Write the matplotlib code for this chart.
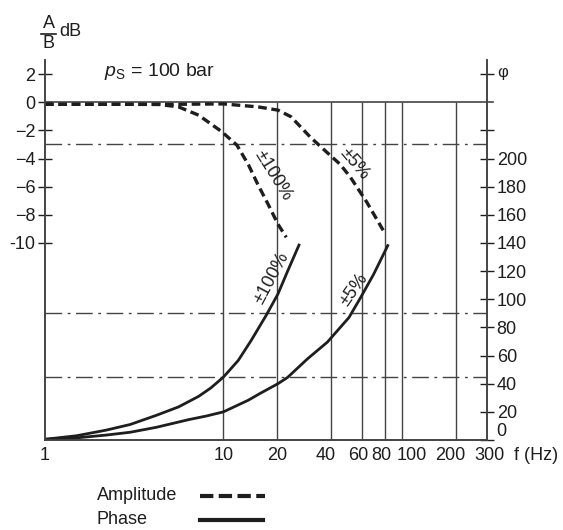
import numpy as np
import matplotlib
matplotlib.use("Agg")
import matplotlib.pyplot as plt
from matplotlib.lines import Line2D
import matplotlib.transforms as mtransforms

plt.rcParams['font.family'] = ['Liberation Sans', 'DejaVu Sans']
plt.rcParams['mathtext.fontset'] = 'custom'
plt.rcParams['mathtext.rm'] = 'Liberation Sans'
plt.rcParams['mathtext.it'] = 'Liberation Sans:italic'

# --- Daten ---
f_amp100 = [1, 2, 3, 4.36, 5.6, 7.26, 9.78, 11.9, 13.8, 15.6, 17.8, 20.2, 22.5]
db_amp100 = [-0.15, -0.15, -0.15, -0.16, -0.33, -0.92, -2.09, -3.05, -4.44, -5.85, -7.25, -8.66, -9.6]

f_amp5 = [1, 5, 10, 15.6, 20.2, 23.9, 30.8, 38.3, 45, 51.3, 63.6, 79.4]
db_amp5 = [-0.15, -0.15, -0.12, -0.33, -0.56, -1.03, -2.5, -3.6, -4.4, -5.3, -7.1, -9.2]

f_ph100 = [1, 1.5, 2.2, 3, 4.2, 5.6, 7.26, 8.5, 10, 12.1, 14.3, 17.4, 20.2, 22.9, 26.7]
phi_ph100 = [0.5, 3, 7, 11, 17.5, 23.5, 31, 37, 44.7, 56.5, 70.7, 88.8, 103.7, 120, 139.4]

f_ph5 = [1, 1.5, 2.2, 3, 4.2, 6.4, 8, 10, 13.8, 16, 20.2, 22.9, 29.6, 38.2, 50.5, 58.6, 69.5, 84]
phi_ph5 = [0.5, 1.5, 3.5, 5.5, 9, 14.5, 17, 20, 28.3, 33, 40, 44.5, 57.7, 69.5, 87, 101, 117.8, 139]

x_ticks = [1, 10, 20, 40, 60, 80, 100, 200, 300]
x_label_dx = [0, 0, 0, -5, -4, -3, 10, -5, 2]   # Versatz der Beschriftung in px
x_gitter = [10, 20, 40, 60, 80, 100, 200]
db_ticks = [2, 0, -2, -4, -6, -8, -10]
db_labels = ['2', '0', '\u22122', '\u22124', '\u22126', '\u22128', '-10']
phi_ticks = [0, 20, 40, 60, 80, 100, 120, 140, 160, 180, 200, 220, 260]
phi_labels = ['0', '20', '40', '60', '80', '100', '120', '140', '160', '180', '200', '', '']
hilfslinien_db = [-3]
hilfslinien_phi = [90, 45]

W, H = 563, 530
fig = plt.figure(figsize=(W / 100, H / 100), dpi=100)
L, R, B, T = 45, 487, 440, 60
ax = fig.add_axes([L / W, 1 - B / H, (R - L) / W, (B - T) / H])
ax2 = ax.twinx()

ax.set_xscale('log')
ax.set_xlim(1, 300)
ax.set_ylim(-24, 3)
ax2.set_ylim(0, 270)

dunkel = '#1e1e1e'
for a in (ax, ax2):
    a.spines['top'].set_visible(False)
    for s in a.spines.values():
        s.set_color('#444444')
        s.set_linewidth(1.2)

# Achsen / Ticks
ax.set_yticks(db_ticks)
ax.set_yticklabels(db_labels)
ax.tick_params(axis='y', direction='inout', length=10, width=1, pad=2, labelsize=13, colors=dunkel)
ax2.set_yticks(phi_ticks)
ax2.set_yticklabels(phi_labels)
ax2.tick_params(axis='y', direction='inout', length=10, width=1, pad=2, labelsize=13, colors=dunkel)
ax2.get_yticklabels()[0].set_verticalalignment('bottom')   # "0" etwas hoeher
ax.set_xticks([])
ax.xaxis.set_minor_locator(matplotlib.ticker.NullLocator())

xtrans = mtransforms.blended_transform_factory(ax.transData, ax.transAxes)
for v, dx in zip(x_ticks, x_label_dx):
    off = mtransforms.ScaledTranslation(dx / 100, -15 / 100, fig.dpi_scale_trans)
    ax.text(v, 0, str(v), transform=xtrans + off, ha='center', va='center',
            fontsize=13, color=dunkel, clip_on=False)

# Gitter
ax.vlines(x_gitter, -24, 0, color='#444444', lw=1)
trans = mtransforms.blended_transform_factory(ax.transAxes, ax.transData)
ax.plot([0, 1.013], [0, 0], color='#444444', lw=1.2, transform=trans, clip_on=False)
for y in hilfslinien_db:
    ax.axhline(y, color='#444444', lw=1, dashes=(12, 4, 2, 4))
for y in hilfslinien_phi:
    ax2.axhline(y, color='#444444', lw=1, dashes=(12, 4, 2, 4))

# Kurven
ax.plot(f_amp100, db_amp100, color=dunkel, lw=2.4, dashes=(2.6, 1.4))
ax.plot(f_amp5, db_amp5, color=dunkel, lw=2.4, dashes=(2.6, 1.4))
ax2.plot(f_ph100, phi_ph100, color=dunkel, lw=2.0, solid_capstyle='butt')
ax2.plot(f_ph5, phi_ph5, color=dunkel, lw=2.0, solid_capstyle='butt')

# Beschriftungen an den Kurven
ax.text(19, -5.2, '\u00b1100%', rotation=-58, ha='center', va='center', rotation_mode='anchor', fontsize=13, color=dunkel)
ax.text(54, -4.4, '\u00b15%', rotation=-50, ha='center', va='center', rotation_mode='anchor', fontsize=13, color=dunkel)
ax2.text(18.7, 115, '\u00b1100%', rotation=62, ha='center', va='center', rotation_mode='anchor', fontsize=13, color=dunkel)
ax2.text(54.2, 107, '\u00b15%', rotation=55, ha='center', va='center', rotation_mode='anchor', fontsize=13, color=dunkel)

ax.text(2.15, 2.2, r'$p_\mathrm{S}$ = 100 bar', ha='left', va='center', fontsize=14, color=dunkel)

def px(x, y):
    return x / W, 1 - y / H

fig.text(*px(48.5, 23), 'A', ha='center', va='center', fontsize=13, color=dunkel)
fig.text(*px(48.5, 44), 'B', ha='center', va='center', fontsize=13, color=dunkel)
fig.add_artist(Line2D([41 / W, 56 / W], [1 - 33.5 / H, 1 - 33.5 / H], color=dunkel, lw=1.2))
fig.text(*px(59, 32), 'dB', ha='left', va='center', fontsize=13, color=dunkel)
fig.text(*px(497, 73), '\u03c6', ha='left', va='center', fontsize=12, color=dunkel)
fig.text(*px(514, 455), 'f (Hz)', ha='left', va='center', fontsize=13, color=dunkel)

# Legende
fig.text(*px(97, 495), 'Amplitude', ha='left', va='center', fontsize=13, color=dunkel)
fig.text(*px(97, 519), 'Phase', ha='left', va='center', fontsize=13, color=dunkel)
fig.add_artist(Line2D([200 / W, 265 / W], [1 - 496 / H, 1 - 496 / H], color=dunkel, lw=3, dashes=(3.2, 1.3)))
fig.add_artist(Line2D([200 / W, 263 / W], [1 - 520 / H, 1 - 520 / H], color=dunkel, lw=3))

fig.savefig('out.png', dpi=100)
